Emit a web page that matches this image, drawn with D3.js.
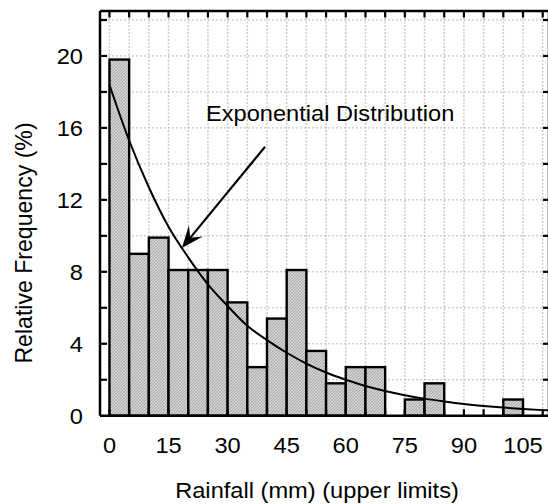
<!DOCTYPE html>
<html>
<head>
<meta charset="utf-8">
<script src="https://cdn.jsdelivr.net/npm/d3@7"></script>
<style>
  html, body { margin: 0; padding: 0; background: #ffffff; }
  text { font-family: 'Liberation Sans', Arial, sans-serif; fill: #000000; }
</style>
</head>
<body>
<div id="chart"></div>
<script>
// lower edge of each 5 mm class and its relative frequency (%)
const binStarts = [0, 5, 10, 15, 20, 25, 30, 35, 40, 45, 50, 55, 60, 65, 70, 75, 80, 85, 90, 95, 100, 105];
const frequencies = [19.8, 9.0, 9.9, 8.1, 8.1, 8.1, 6.3, 2.7, 5.4, 8.1, 3.6, 1.8, 2.7, 2.7, 0, 0.9, 1.8, 0, 0, 0, 0.9, 0];
const binWidth = 5;

// exponential curve
const curveX = [0, 5, 10, 15, 20, 25, 30, 35, 40, 45, 50, 55, 60, 65, 70, 75, 80, 85, 90, 95, 100, 105, 110, 112];
const curveY = [18.4, 15.3, 12.7, 10.5, 8.8, 7.3, 6.1, 5.0, 4.2, 3.5, 2.9, 2.4, 2.0, 1.65, 1.37, 1.14, 0.95, 0.79, 0.65, 0.54, 0.45, 0.37, 0.31, 0.29];

const xTickLabels = [0, 15, 30, 45, 60, 75, 90, 105];
const yTickLabels = [0, 4, 8, 12, 16, 20];
const xMinorTicks = d3.range(0, 111, 5);
const yMinorTicks = d3.range(2, 23, 2);

const annotation = { text: 'Exponential Distribution', x: 24.5, y: 16.4 };
const arrowFrom = { x: 39.5, y: 14.95 };
const arrowTo = { x: 18.4, y: 9.33 };

const W = 548, H = 504;
const plot = { left: 100, right: 549, top: 11, bottom: 415.7 };
const fontSize = '22px';
const stretch = 1.075; // the source picture is a little wider than tall

const svg = d3.select('#chart').append('svg')
  .attr('width', W)
  .attr('height', H);

const x = d3.scaleLinear().domain([-2.4, 111.6]).range([plot.left, plot.right]);
const y = d3.scaleLinear().domain([0, 22.5]).range([plot.bottom, plot.top]);

// horizontal text, widened like the source
const addText = (g, tx, ty, str, anchor) => {
  return g.append('text')
    .attr('transform', `translate(${tx},${ty}) scale(${stretch},1)`)
    .attr('text-anchor', anchor)
    .style('font-size', fontSize)
    .text(str);
}

// hatch fill for the bars
const defs = svg.append('defs');
const pat = defs.append('pattern')
  .attr('id', 'hatch')
  .attr('patternUnits', 'userSpaceOnUse')
  .attr('width', 3)
  .attr('height', 3);
pat.append('rect').attr('width', 3).attr('height', 3).attr('fill', '#cfcfcf');
pat.append('path').attr('d', 'M0,3 L3,0').attr('stroke', '#ababab').attr('stroke-width', 1);

defs.append('clipPath').attr('id', 'clip')
  .append('rect')
  .attr('x', plot.left)
  .attr('y', plot.top)
  .attr('width', plot.right - plot.left)
  .attr('height', plot.bottom - plot.top);

// grid
const grid = svg.append('g');
grid.selectAll('.gx')
  .data(xMinorTicks)
  .enter()
  .append('line')
  .attr('x1', d => x(d)).attr('x2', d => x(d))
  .attr('y1', plot.top).attr('y2', plot.bottom)
  .attr('stroke', '#cccccc')
  .attr('stroke-width', 1.5)
  .attr('stroke-dasharray', '2,1.5');
grid.selectAll('.gy')
  .data(yMinorTicks)
  .enter()
  .append('line')
  .attr('x1', plot.left).attr('x2', plot.right)
  .attr('y1', d => y(d)).attr('y2', d => y(d))
  .attr('stroke', '#b8b8b8')
  .attr('stroke-width', 1)
  .attr('stroke-dasharray', '2,2');

// bars
const bars = binStarts.map((b, i) => ({ start: b, value: frequencies[i] })).filter(d => d.value > 0);
svg.append('g')
  .selectAll('rect')
  .data(bars)
  .enter()
  .append('rect')
  .attr('x', d => x(d.start))
  .attr('y', d => y(d.value))
  .attr('width', d => x(d.start + binWidth) - x(d.start))
  .attr('height', d => y(0) - y(d.value))
  .attr('fill', 'url(#hatch)')
  .attr('stroke', '#000000')
  .attr('stroke-width', 2.4);

// exponential curve
const line = d3.line()
  .x((d, i) => x(curveX[i]))
  .y(d => y(d))
  .curve(d3.curveMonotoneX);
svg.append('path')
  .attr('clip-path', 'url(#clip)')
  .attr('d', line(curveY))
  .attr('fill', 'none')
  .attr('stroke', '#000000')
  .attr('stroke-width', 2);

// axes frame
const frame = svg.append('g').attr('stroke', '#000000').attr('stroke-width', 2.5);
frame.append('line').attr('x1', plot.left).attr('x2', plot.right).attr('y1', plot.bottom).attr('y2', plot.bottom);
frame.append('line').attr('x1', plot.left).attr('x2', plot.right).attr('y1', plot.top).attr('y2', plot.top);
frame.append('line').attr('x1', plot.left).attr('x2', plot.left).attr('y1', plot.top).attr('y2', plot.bottom);
frame.append('line').attr('x1', plot.right).attr('x2', plot.right).attr('y1', plot.top).attr('y2', plot.bottom);

// inward ticks
const ticks = svg.append('g').attr('stroke', '#000000').attr('stroke-width', 2.2);
ticks.selectAll('.tb')
  .data(xMinorTicks)
  .enter()
  .append('line')
  .attr('x1', d => x(d)).attr('x2', d => x(d))
  .attr('y1', plot.bottom).attr('y2', plot.bottom - 6.5);
ticks.selectAll('.tt')
  .data(xMinorTicks)
  .enter()
  .append('line')
  .attr('x1', d => x(d)).attr('x2', d => x(d))
  .attr('y1', plot.top).attr('y2', plot.top + 6.5);
ticks.selectAll('.tl')
  .data(yMinorTicks)
  .enter()
  .append('line')
  .attr('x1', plot.left).attr('x2', plot.left + 7)
  .attr('y1', d => y(d)).attr('y2', d => y(d));
ticks.selectAll('.tr')
  .data(yMinorTicks)
  .enter()
  .append('line')
  .attr('x1', plot.right).attr('x2', plot.right - 6)
  .attr('y1', d => y(d)).attr('y2', d => y(d));

// tick labels
const xLabels = svg.append('g');
for (const v of xTickLabels) {
  addText(xLabels, x(v), 452.7, v, 'middle');
}
const yLabels = svg.append('g');
for (const v of yTickLabels) {
  addText(yLabels, 83, y(v) + 7.9, v, 'end');
}

// axis titles
addText(svg, 317, 497.5, 'Rainfall (mm) (upper limits)', 'middle');
svg.append('text')
  .attr('transform', 'translate(32,243) rotate(-90) scale(1.05,1.05)')
  .attr('text-anchor', 'middle')
  .style('font-size', fontSize)
  .text('Relative Frequency (%)');

// annotation and arrow
addText(svg, x(annotation.x), y(annotation.y), annotation.text, 'start');

const x0 = x(arrowFrom.x), y0 = y(arrowFrom.y);
const x1 = x(arrowTo.x), y1 = y(arrowTo.y);
const len = Math.hypot(x1 - x0, y1 - y0);
const ux = (x1 - x0) / len, uy = (y1 - y0) / len;
const px = -uy, py = ux;
const headLen = 22, headHalf = 9, notch = 13;
svg.append('line')
  .attr('x1', x0).attr('y1', y0)
  .attr('x2', x1 - ux * notch).attr('y2', y1 - uy * notch)
  .attr('stroke', '#000000')
  .attr('stroke-width', 2.2);
svg.append('path')
  .attr('d', `M${x1},${y1}` +
    `L${x1 - ux * headLen + px * headHalf},${y1 - uy * headLen + py * headHalf}` +
    `L${x1 - ux * notch},${y1 - uy * notch}` +
    `L${x1 - ux * headLen - px * headHalf},${y1 - uy * headLen - py * headHalf}Z`)
  .attr('fill', '#000000');
</script>
</body>
</html>
